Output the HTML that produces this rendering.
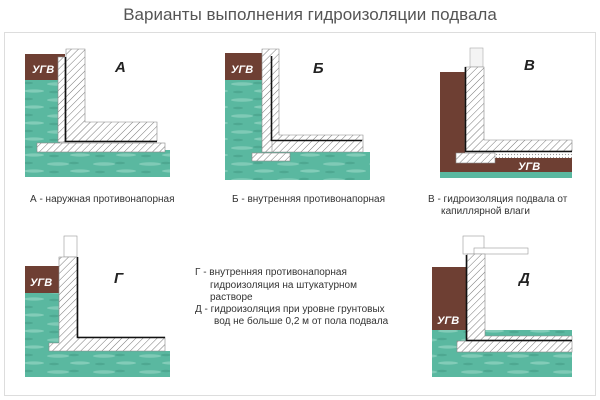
<!DOCTYPE html>
<html><head><meta charset="utf-8"><style>
html,body{margin:0;padding:0;background:#fff;width:600px;height:400px;overflow:hidden}
text{font-family:"Liberation Sans",sans-serif}
</style></head><body>
<svg width="600" height="400" viewBox="0 0 600 400" xmlns="http://www.w3.org/2000/svg">
<defs>
<pattern id="h" width="5" height="5" patternUnits="userSpaceOnUse" patternTransform="rotate(45)">
<rect width="5" height="5" fill="#fff"/><line x1="0" y1="0" x2="0" y2="5" stroke="#777" stroke-width="1"/></pattern>
<pattern id="g" width="46" height="16" patternUnits="userSpaceOnUse">
<rect width="46" height="16" fill="#5ab8a0"/>
<ellipse cx="12" cy="4" rx="11" ry="1.8" fill="#7fcab6"/>
<ellipse cx="34" cy="11" rx="10" ry="1.6" fill="#82ccb8"/>
<ellipse cx="28" cy="3" rx="5" ry="1.2" fill="#4ea891"/>
<ellipse cx="8" cy="12" rx="5" ry="1.2" fill="#4ea891"/>
</pattern>
<pattern id="d" width="3" height="3" patternUnits="userSpaceOnUse"><rect width="3" height="3" fill="#fff"/><circle cx="1.5" cy="1.5" r="0.6" fill="#999"/></pattern>
</defs>
<rect x="4.5" y="32.5" width="591" height="363" fill="none" stroke="#ddd"/>
<text x="310" y="20" font-size="17" fill="#555" text-anchor="middle">Варианты выполнения гидроизоляции подвала</text>

<!-- A -->
<rect x="25" y="54" width="40" height="26" fill="#6e3f33"/>
<rect x="25" y="80" width="35" height="97" fill="url(#g)"/>
<rect x="25" y="150" width="145" height="27" fill="url(#g)"/>
<rect x="58" y="57" width="7" height="85" fill="url(#h)" stroke="#888" stroke-width="0.6"/>
<path d="M66 49H85V122H157V141H66Z" fill="url(#h)" stroke="#888" stroke-width="0.6"/>
<path d="M65.5 57V141.5H157" fill="none" stroke="#111" stroke-width="1.6"/>
<rect x="37" y="143" width="128" height="9" fill="url(#h)" stroke="#888" stroke-width="0.6"/>
<text x="32" y="73" font-size="11" font-weight="bold" font-style="italic" fill="#fff">УГВ</text>
<text x="115" y="72" font-size="15" font-weight="bold" font-style="italic" fill="#222">А</text>
<text x="30" y="202" font-size="10" fill="#333">А - наружная противонапорная</text>

<!-- Б -->
<rect x="225" y="53" width="37" height="27" fill="#6e3f33"/>
<rect x="225" y="80" width="37" height="100" fill="url(#g)"/>
<rect x="225" y="152" width="145" height="28" fill="url(#g)"/>
<path d="M262 49H279V135H363V152H262Z" fill="url(#h)" stroke="#888" stroke-width="0.6"/>
<path d="M271.5 56V140.5H362" fill="none" stroke="#111" stroke-width="1.6"/>
<line x1="272" y1="141" x2="272" y2="152" stroke="#888" stroke-width="0.6"/>
<rect x="252" y="153" width="38" height="8" fill="url(#h)" stroke="#888" stroke-width="0.6"/>
<text x="231" y="73" font-size="11" font-weight="bold" font-style="italic" fill="#fff">УГВ</text>
<text x="313" y="73" font-size="15" font-weight="bold" font-style="italic" fill="#222">Б</text>
<text x="232" y="202" font-size="10" fill="#333">Б - внутренняя противонапорная</text>

<!-- В -->
<rect x="440" y="72" width="25" height="103" fill="#6e3f33"/>
<rect x="440" y="153" width="132" height="22" fill="#6e3f33"/>
<rect x="440" y="172" width="132" height="6" fill="#5ab8a0"/>
<rect x="470" y="48" width="13" height="19" fill="#f4f4f4" stroke="#aaa" stroke-width="0.6"/>
<path d="M465 67H484V140H572V151H465Z" fill="url(#h)" stroke="#888" stroke-width="0.6"/>
<path d="M465.5 67V151.5H572" fill="none" stroke="#111" stroke-width="1.6"/>
<rect x="495" y="153" width="77" height="5" fill="url(#d)"/>
<rect x="456" y="153" width="39" height="10" fill="url(#h)" stroke="#888" stroke-width="0.6"/>
<text x="518" y="170" font-size="11" font-weight="bold" font-style="italic" fill="#fff">УГВ</text>
<text x="524" y="70" font-size="15" font-weight="bold" font-style="italic" fill="#222">В</text>
<text x="428" y="202" font-size="10" fill="#333">В - гидроизоляция подвала от</text>
<text x="441" y="214" font-size="10" fill="#333">капиллярной влаги</text>

<!-- Г -->
<rect x="64" y="236" width="13" height="21" fill="#fff" stroke="#999" stroke-width="0.6"/>
<rect x="25" y="266" width="34" height="27" fill="#6e3f33"/>
<rect x="25" y="293" width="34" height="84" fill="url(#g)"/>
<rect x="25" y="351" width="145" height="26" fill="url(#g)"/>
<path d="M59 257H77V337H165V351H49V343H59Z" fill="url(#h)" stroke="#888" stroke-width="0.6"/>
<path d="M77.5 257V337.5H165" fill="none" stroke="#111" stroke-width="1.6"/>
<text x="30" y="286" font-size="11" font-weight="bold" font-style="italic" fill="#fff">УГВ</text>
<text x="114" y="283" font-size="15" font-weight="bold" font-style="italic" fill="#222">Г</text>

<!-- Middle text -->
<g font-size="10" fill="#333">
<text x="195" y="275">Г - внутренняя противонапорная</text>
<text x="210" y="288">гидроизоляция на штукатурном</text>
<text x="210" y="300">растворе</text>
<text x="195" y="312">Д - гидроизоляция при уровне грунтовых</text>
<text x="214" y="324">вод не больше 0,2 м от пола подвала</text>
</g>

<!-- Д -->
<rect x="463" y="236" width="21" height="18" fill="#fff" stroke="#999" stroke-width="0.6"/>
<rect x="474" y="248" width="54" height="6" fill="#fff" stroke="#999" stroke-width="0.6"/>
<rect x="432" y="267" width="34" height="63" fill="#6e3f33"/>
<rect x="432" y="330" width="140" height="47" fill="url(#g)"/>
<path d="M467 254H485V336H572V340H467Z" fill="url(#h)" stroke="#888" stroke-width="0.6"/>
<rect x="457" y="341" width="115" height="11" fill="url(#h)" stroke="#888" stroke-width="0.6"/>
<path d="M466.5 255V340.5H572" fill="none" stroke="#111" stroke-width="1.6"/>
<text x="437" y="324" font-size="11" font-weight="bold" font-style="italic" fill="#fff">УГВ</text>
<text x="519" y="283" font-size="15" font-weight="bold" font-style="italic" fill="#222">Д</text>
</svg>
</body></html>
